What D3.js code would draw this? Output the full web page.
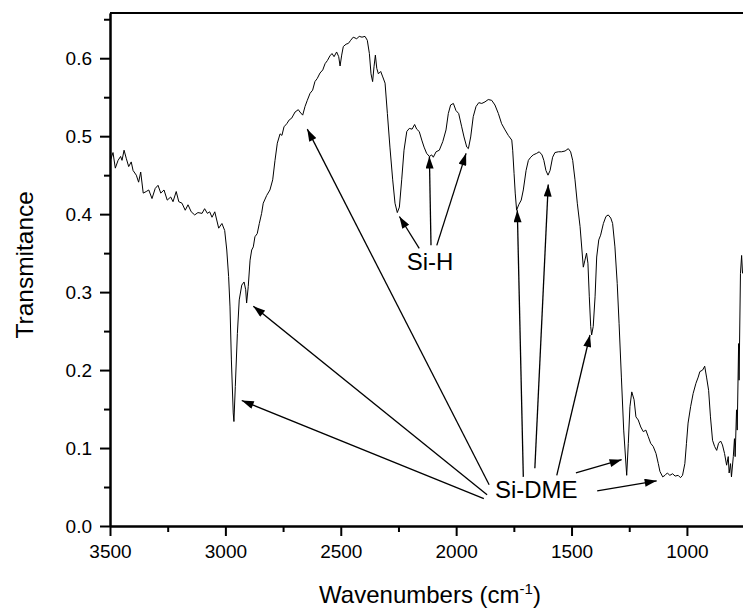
<!DOCTYPE html>
<html>
<head>
<meta charset="utf-8">
<script src="https://cdn.jsdelivr.net/npm/d3@7"></script>
<style>
  body { margin: 0; background: #fff; }
  text { font-family: "Liberation Sans", Arial, sans-serif; fill: #000; }
</style>
</head>
<body>
<div id="chart"></div>
<script>
// FTIR spectrum
const wavenumbers = [
  3497, 3487, 3477, 3465, 3454, 3448, 3439, 3429, 3419, 3408, 3400, 3386, 3376, 3367, 3356, 3343,
  3332, 3318, 3304, 3292, 3280, 3266, 3252, 3237, 3227, 3213, 3202, 3188, 3174, 3162, 3148, 3133,
  3119, 3101, 3090, 3078, 3068, 3058, 3046, 3029, 3015, 3003, 2994, 2986, 2980, 2974, 2966, 2963,
  2957, 2948, 2940, 2929, 2919, 2912, 2908, 2901, 2893, 2886, 2879, 2872, 2862, 2853, 2843, 2836,
  2821, 2807, 2795, 2785, 2775, 2763, 2755, 2746, 2734, 2723, 2713, 2698, 2684, 2677, 2665, 2655,
  2645, 2633, 2622, 2612, 2602, 2590, 2578, 2568, 2558, 2547, 2538, 2529, 2518, 2509, 2503, 2496,
  2489, 2477, 2467, 2457, 2446, 2431, 2420, 2408, 2395, 2385, 2376, 2369, 2362, 2356, 2350, 2344,
  2337, 2327, 2318, 2308, 2298, 2287, 2275, 2265, 2255, 2246, 2236, 2226, 2214, 2203, 2191, 2180,
  2171, 2160, 2149, 2139, 2128, 2116, 2106, 2099, 2087, 2073, 2058, 2044, 2034, 2024, 2012, 2001,
  1989, 1976, 1966, 1954, 1947, 1937, 1926, 1914, 1902, 1889, 1875, 1861, 1846, 1832, 1817, 1803,
  1788, 1774, 1759, 1755, 1749, 1744, 1738, 1729, 1718, 1709, 1697, 1687, 1677, 1666, 1651, 1640,
  1628, 1620, 1611, 1602, 1593, 1582, 1572, 1557, 1543, 1528, 1514, 1504, 1495, 1485, 1475, 1463,
  1455, 1449, 1442, 1435, 1429, 1423, 1417, 1413, 1406, 1398, 1391, 1382, 1374, 1362, 1351, 1341,
  1330, 1322, 1312, 1302, 1294, 1284, 1274, 1261, 1254, 1247, 1239, 1229, 1221, 1211, 1200, 1189,
  1178, 1168, 1157, 1146, 1134, 1124, 1117, 1105, 1095, 1085, 1074, 1062, 1051, 1038, 1028, 1019,
  1009, 1002, 995, 984, 973, 961, 951, 944, 932, 923, 915, 906, 898, 889, 880, 871,
  863, 854, 846, 837, 828, 821, 817, 811, 807, 799, 794, 791, 785, 782, 776, 774,
  768, 763, 759
];
const transmittance = [
  .470, .479, .459, .469, .474, .469, .482, .471, .461, .467, .456, .450, .441, .454, .427, .429,
  .431, .420, .433, .437, .427, .431, .418, .422, .416, .429, .416, .414, .405, .412, .403, .399,
  .402, .401, .407, .401, .403, .396, .403, .382, .388, .379, .354, .320, .281, .213, .145, .134,
  .179, .247, .290, .309, .313, .303, .286, .307, .341, .354, .358, .371, .375, .388, .401, .414,
  .424, .431, .444, .469, .491, .503, .501, .512, .516, .521, .523, .531, .534, .531, .527, .538,
  .546, .555, .559, .570, .574, .581, .585, .593, .597, .603, .606, .602, .608, .602, .590, .604,
  .615, .618, .619, .623, .627, .625, .628, .627, .628, .623, .606, .580, .570, .589, .604, .587,
  .580, .583, .576, .568, .529, .486, .444, .414, .402, .409, .444, .482, .506, .510, .509, .515,
  .509, .506, .495, .486, .478, .474, .476, .473, .480, .482, .493, .508, .529, .540, .542, .533,
  .529, .512, .499, .486, .484, .499, .525, .538, .543, .542, .544, .547, .546, .540, .529, .516,
  .508, .501, .495, .482, .452, .427, .405, .412, .418, .431, .456, .469, .473, .476, .478, .480,
  .476, .469, .456, .450, .456, .473, .479, .480, .480, .481, .484, .480, .469, .444, .414, .384,
  .354, .332, .341, .350, .337, .294, .256, .245, .256, .294, .345, .367, .373, .388, .397, .399,
  .395, .388, .358, .311, .260, .191, .123, .065, .106, .153, .172, .162, .140, .136, .127, .121,
  .123, .115, .106, .102, .093, .080, .070, .063, .065, .068, .065, .067, .064, .065, .062, .065,
  .080, .106, .132, .153, .170, .183, .191, .198, .200, .205, .191, .174, .140, .110, .102, .097,
  .106, .109, .104, .093, .078, .089, .068, .080, .063, .089, .112, .089, .149, .123, .234, .187,
  .324, .347, .324
];

// axis ticks
const xMajorTicks = [3500, 3000, 2500, 2000, 1500, 1000];
const xMinorTicks = [3250, 2750, 2250, 1750, 1250];
const yMajorTicks = [0, 0.1, 0.2, 0.3, 0.4, 0.5, 0.6];
const yMinorTicks = [0.05, 0.15, 0.25, 0.35, 0.45, 0.55, 0.65];

// annotations, in data units: [fromWn, fromT, toWn, toT]
const dmeArrows = [
  [1880, 0.035, 2929, 0.161],
  [1866, 0.040, 2879, 0.282],
  [1857, 0.053, 2645, 0.509],
  [1709, 0.063, 1735, 0.405],
  [1659, 0.074, 1601, 0.438],
  [1564, 0.065, 1420, 0.245],
  [1481, 0.068, 1283, 0.085],
  [1389, 0.045, 1131, 0.058]
];
const shArrows = [
  [2160, 0.356, 2246, 0.397],
  [2109, 0.360, 2116, 0.474],
  [2084, 0.360, 1957, 0.478]
];
const labels = [
  {text: "Si-H", wn: 2113, t: 0.329, anchor: "middle"},
  {text: "Si-DME", wn: 1832, t: 0.036, anchor: "start"}
];

const width = 743;
const height = 608;
const margin = {left: 110, right: 0, top: 13, bottom: 82};

const svg = d3.select("#chart")
  .append("svg")
  .attr("width", width)
  .attr("height", height);

const xScale = d3.scaleLinear()
  .domain([3500, 757])
  .range([margin.left, width - margin.right]);

const yScale = d3.scaleLinear()
  .domain([0, 0.658])
  .range([height - margin.bottom, margin.top]);

const data = wavenumbers.map((w, i) => ({w: w, t: transmittance[i]}));

svg.append("defs").append("clipPath")
  .attr("id", "plot-clip")
  .append("rect")
  .attr("x", margin.left)
  .attr("y", margin.top)
  .attr("width", width - margin.left - margin.right)
  .attr("height", height - margin.top - margin.bottom);

// arrow head
svg.select("defs").append("marker")
  .attr("id", "head")
  .attr("markerUnits", "userSpaceOnUse")
  .attr("viewBox", "0 0 12 8")
  .attr("refX", 12)
  .attr("refY", 4)
  .attr("markerWidth", 13)
  .attr("markerHeight", 8)
  .attr("orient", "auto")
  .append("path")
  .attr("d", "M0,0 L12,4 L0,8 Z")
  .attr("fill", "#000");

// spectrum
const line = d3.line()
  .x(d => xScale(d.w))
  .y(d => yScale(d.t));

svg.append("path")
  .datum(data)
  .attr("clip-path", "url(#plot-clip)")
  .attr("fill", "none")
  .attr("stroke", "#000")
  .attr("stroke-width", 1)
  .attr("d", line);

// axes
const xAxis = svg.append("g")
  .attr("transform", `translate(0,${height - margin.bottom})`)
  .call(d3.axisBottom(xScale).tickValues(xMajorTicks).tickSize(10).tickSizeOuter(0).tickPadding(9).tickFormat(d3.format("d")));
svg.append("g")
  .attr("transform", `translate(0,${height - margin.bottom})`)
  .call(d3.axisBottom(xScale).tickValues(xMinorTicks).tickSize(6).tickSizeOuter(0).tickFormat(""));

const yAxis = svg.append("g")
  .attr("transform", `translate(${margin.left},0)`)
  .call(d3.axisLeft(yScale).tickValues(yMajorTicks).tickSize(10).tickSizeOuter(0).tickPadding(8).tickFormat(d3.format(".1f")));
svg.append("g")
  .attr("transform", `translate(${margin.left},0)`)
  .call(d3.axisLeft(yScale).tickValues(yMinorTicks).tickSize(6).tickSizeOuter(0).tickFormat(""));

svg.selectAll(".domain, .tick line")
  .attr("stroke", "#000")
  .attr("stroke-width", 2);
svg.selectAll(".tick text")
  .attr("font-size", "19px")
  .attr("font-family", "Liberation Sans, Arial, sans-serif");

// top frame
svg.append("line")
  .attr("x1", margin.left).attr("x2", width)
  .attr("y1", yScale(0.658)).attr("y2", yScale(0.658))
  .attr("stroke", "#000")
  .attr("stroke-width", 2);

// axis titles
const xTitle = svg.append("text")
  .attr("x", 430)
  .attr("y", 603)
  .attr("text-anchor", "middle")
  .attr("font-size", "24px");
xTitle.append("tspan").text("Wavenumbers (cm");
xTitle.append("tspan").attr("dy", -9).attr("font-size", "15px").text("-1");
xTitle.append("tspan").attr("dy", 9).text(")");

svg.append("text")
  .attr("transform", `translate(33,${yScale(0.335)}) rotate(-90)`)
  .attr("text-anchor", "middle")
  .attr("font-size", "24.5px")
  .text("Transmitance");

// annotations
svg.selectAll(".arrow")
  .data(dmeArrows.concat(shArrows))
  .enter()
  .append("line")
  .attr("class", "arrow")
  .attr("x1", d => xScale(d[0]))
  .attr("y1", d => yScale(d[1]))
  .attr("x2", d => xScale(d[2]))
  .attr("y2", d => yScale(d[3]))
  .attr("stroke", "#000")
  .attr("stroke-width", 1.3)
  .attr("marker-end", "url(#head)");

svg.selectAll(".label")
  .data(labels)
  .enter()
  .append("text")
  .attr("class", "label")
  .attr("x", d => xScale(d.wn))
  .attr("y", d => yScale(d.t))
  .attr("text-anchor", d => d.anchor)
  .attr("font-size", "24px")
  .text(d => d.text);
</script>
</body>
</html>
